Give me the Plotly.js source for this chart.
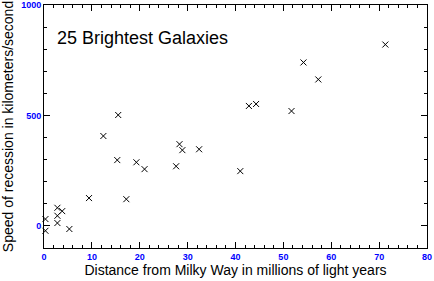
<!DOCTYPE html>
<html>
<head>
<meta charset="utf-8">
<script src="https://cdn.plot.ly/plotly-3.0.1.min.js"></script>
<style>html,body{margin:0;padding:0;background:#fff;}#chart{width:434px;height:281px;}</style>
</head>
<body>
<div id="chart"></div>
<script>
// Distance (millions of light years) and recession speed (km/s) for 25 galaxies
const distance = [0.3, 0.3, 2.8, 2.8, 2.8, 3.8, 5.3, 9.4, 12.4, 15.5, 15.3, 17.2, 19.3, 21.0, 27.6, 28.3, 28.9, 32.4, 41.0, 42.8, 44.3, 51.7, 54.2, 57.3, 71.3];
const speed    = [31, -22, 82, 46, 13, 67, -14, 126, 407, 502, 298, 121, 288, 257, 270, 370, 343, 347, 248, 543, 552, 520, 740, 663, 821];
const xTickVals = [0, 10, 20, 30, 40, 50, 60, 70, 80];
const yTickVals = [0, 500, 1000];
const chartTitle = "25 Brightest Galaxies";

const font = "Liberation Sans, Arial, sans-serif";
const axisCommon = {
  showline: true, linecolor: "#000", linewidth: 1, mirror: "ticks",
  ticks: "inside", ticklen: 6, tickcolor: "#000", tickwidth: 1,
  showgrid: false, zeroline: false, fixedrange: true,
  tickfont: {family: font, size: 9, color: "#0000ff", weight: "bold"},
  automargin: false
};

const trace = {
  x: distance, y: speed, type: "scatter", mode: "markers",
  marker: {symbol: "x-thin", size: 6, color: "#000", line: {color: "#000", width: 1}},
  hoverinfo: "none", cliponaxis: false
};

const layout = {
  width: 434, height: 281,
  margin: {l: 44, r: 7, t: 5, b: 33},
  paper_bgcolor: "#fff", plot_bgcolor: "#fff",
  showlegend: false,
  font: {family: font, color: "#000"},
  xaxis: Object.assign({}, axisCommon, {
    range: [0, 80], tickvals: xTickVals, ticktext: xTickVals.map(String),
    minor: {dtick: 2, ticks: "inside", ticklen: 3, tickcolor: "#000", showgrid: false},
    title: {text: "Distance from Milky Way in millions of light years", font: {family: font, size: 14, color: "#000"}, standoff: 4}
  }),
  yaxis: Object.assign({}, axisCommon, {
    range: [-100, 1000], tickvals: yTickVals, ticktext: yTickVals.map(String),
    minor: {dtick: 100, ticks: "inside", ticklen: 3, tickcolor: "#000", showgrid: false},
    title: {text: "Speed of recession in kilometers/second", font: {family: font, size: 14, color: "#000"}, standoff: 4}
  }),
  annotations: [{
    text: chartTitle, xref: "paper", yref: "paper",
    x: 0.029, y: 0.865, xanchor: "left", yanchor: "middle", showarrow: false,
    font: {family: font, size: 18, color: "#000"}
  }]
};

Plotly.newPlot("chart", [trace], layout, {staticPlot: true, displayModeBar: false});
</script>
</body>
</html>
